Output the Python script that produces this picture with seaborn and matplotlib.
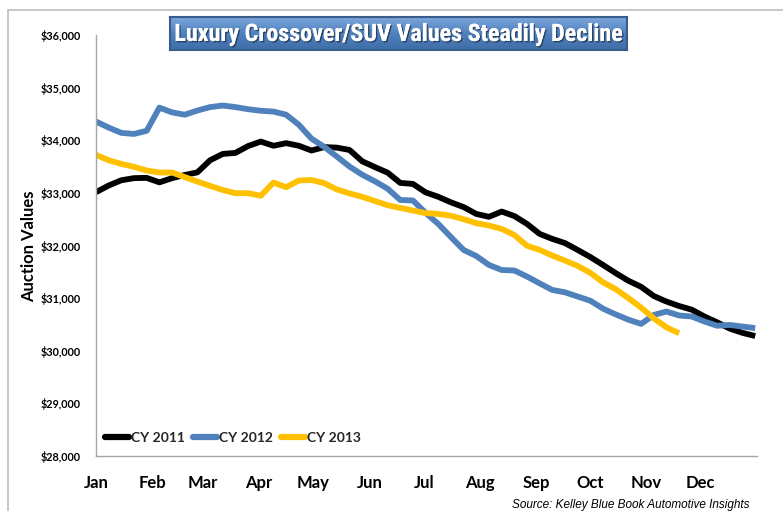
import numpy as np
import pandas as pd
import matplotlib
matplotlib.use("Agg")
import matplotlib.pyplot as plt
import matplotlib.patheffects as pe
from matplotlib.patches import Rectangle
from matplotlib.lines import Line2D
from matplotlib.colors import LinearSegmentedColormap
from matplotlib import font_manager
import seaborn as sns

# ---------------- data (weekly auction values) ----------------
cy2011 = [33013, 33140, 33240, 33280, 33285, 33200, 33280, 33340, 33390, 33620,
          33740, 33760, 33890, 33975, 33895, 33945, 33895, 33805, 33870, 33860,
          33815, 33600, 33490, 33385, 33190, 33170, 33010, 32925, 32820, 32730,
          32600, 32545, 32645, 32560, 32410, 32220, 32125, 32045, 31915, 31780,
          31630, 31475, 31330, 31215, 31040, 30935, 30850, 30780, 30650, 30540,
          30420, 30340, 30280]
cy2012 = [34356, 34240, 34140, 34120, 34180, 34620, 34530, 34485, 34565, 34630,
          34660, 34630, 34590, 34560, 34545, 34485, 34295, 34030, 33875, 33690,
          33500, 33345, 33220, 33080, 32865, 32855, 32620, 32410, 32160, 31915,
          31800, 31630, 31535, 31525, 31410, 31280, 31155, 31110, 31030, 30950,
          30800, 30690, 30590, 30510, 30680, 30745, 30670, 30650, 30555, 30475,
          30490, 30460, 30430]
cy2013 = [33722, 33620, 33550, 33495, 33425, 33388, 33386, 33300, 33215, 33133,
          33055, 32994, 32994, 32945, 33196, 33108, 33234, 33245, 33185, 33065,
          32990, 32925, 32845, 32765, 32715, 32665, 32615, 32600, 32565, 32500,
          32424, 32380, 32315, 32200, 31995, 31916, 31808, 31713, 31612, 31480,
          31300, 31170, 31000, 30820, 30615, 30445, 30333]
series_names = ["CY 2011", "CY 2012", "CY 2013"]
series_colors = ["#000000", "#4F81BD", "#FFC000"]
month_labels = ["Jan", "Feb", "Mar", "Apr", "May", "Jun", "Jul", "Aug", "Sep",
                "Oct", "Nov", "Dec", ""]
month_start_days = [0, 31, 59, 90, 120, 151, 181, 212, 243, 273, 304, 334, 365]
y_ticks = [28000, 29000, 30000, 31000, 32000, 33000, 34000, 35000, 36000]
title_text = "Luxury Crossover/SUV Values Steadily Decline"
source_text = "Source: Kelley Blue Book Automotive Insights"

frames = []
for name, vals in zip(series_names, [cy2011, cy2012, cy2013]):
    frames.append(pd.DataFrame({"day": np.arange(len(vals)) * 7,
                                "value": vals, "series": name}))
df = pd.concat(frames, ignore_index=True)

# ---------------- figure ----------------
sns.set_theme(style="white")
plt.rcParams["font.family"] = ["Lato", "DejaVu Sans"]

W, H = 783, 511
fig = plt.figure(figsize=(W / 100, H / 100), dpi=100)
fig.patch.set_facecolor("white")

# chart border (Excel chart-area frame)
fig.patches.append(Rectangle((8 / W, -0.05), 1.2, (H - 10) / H + 0.05,
                             transform=fig.transFigure, fill=False,
                             edgecolor="#BFBFBF", linewidth=1.2, zorder=0))

ax = fig.add_axes([96 / W, (H - 456) / H, (757 - 96) / W, (456 - 35) / H])
palette = dict(zip(series_names, series_colors))
sns.lineplot(data=df, x="day", y="value", hue="series", palette=palette,
             hue_order=series_names, linewidth=4.2, ax=ax, legend=False,
             solid_joinstyle="round", solid_capstyle="butt")

ax.set_xlim(0, 365)
ax.set_ylim(28000, 36000)
ax.set_xticks(month_start_days)
ax.set_xticklabels(month_labels, fontsize=12, fontweight="bold")
ax.set_yticks(y_ticks)
ax.set_yticklabels(["${:,}".format(v) for v in y_ticks], fontsize=7.8,
                   fontweight="bold")
ax.tick_params(axis="both", which="both", direction="out", length=5,
               width=1, color="#A6A6A6", colors="black")
ax.tick_params(axis="x", pad=9, colors="black")
ax.tick_params(axis="y", pad=6, colors="black")
for s in ["top", "right"]:
    ax.spines[s].set_visible(False)
for s in ["left", "bottom"]:
    ax.spines[s].set_color("#A6A6A6")
    ax.spines[s].set_linewidth(1)
ax.set_xlabel("")
ax.set_ylabel("Auction Values", fontsize=12, fontweight="bold", color="black")
ax.yaxis.set_label_coords(-(96 - 37) / 661, (456 - 246) / 421)
ax.grid(False)

handles = [Line2D([0], [0], color=c, linewidth=4.5, solid_capstyle="round")
           for c in series_colors]
leg = ax.legend(handles, series_names, loc="center left",
                bbox_to_anchor=((105 - 96) / 661, (456 - 437.5) / 421),
                ncol=3, frameon=False, borderpad=0, borderaxespad=0,
                handlelength=1.7, handletextpad=0.15, columnspacing=0.6,
                prop={"family": "Lato", "weight": "bold", "size": 10})

# ---------------- title box with gradient ----------------
tx0, tx1, ty0, ty1 = 170, 627, 17, 50
tax = fig.add_axes([tx0 / W, (H - ty1) / H, (tx1 - tx0) / W, (ty1 - ty0) / H])
grad = np.linspace(0, 1, 64).reshape(-1, 1)
cmap = LinearSegmentedColormap.from_list("tb", ["#7DA7DC", "#4F81BD", "#3F6DA8"])
tax.imshow(grad, aspect="auto", cmap=cmap, extent=[0, 1, 0, 1], origin="upper")
tax.set_xlim(0, 1)
tax.set_ylim(0, 1)
tax.set_xticks([])
tax.set_yticks([])
for s in tax.spines.values():
    s.set_color("#385D8A")
    s.set_linewidth(1.5)

# pick a narrow family if one is installed
title_family = "DejaVu Sans"
for cand in ["Liberation Sans Narrow", "Roboto Condensed", "DejaVu Sans Condensed",
             "Open Sans Condensed", "Liberation Sans"]:
    try:
        font_manager.findfont(font_manager.FontProperties(family=cand),
                              fallback_to_default=False)
        title_family = cand
        break
    except Exception:
        continue

ttl = tax.text(0.5, 0.47, title_text, ha="center", va="center", color="white",
               fontsize=16, fontweight="bold", family=[title_family, "DejaVu Sans"],
               path_effects=[pe.withSimplePatchShadow(offset=(1, -1),
                                                      shadow_rgbFace="#1F3550",
                                                      alpha=0.8), pe.Normal()])
# fit the title width to the box like the reference (~448 px)
renderer = fig.canvas.get_renderer()
w = ttl.get_window_extent(renderer).width
ttl.set_fontsize(16 * 448.0 / w)

# ---------------- source note ----------------
fig.text(750 / W, 3.0 / H, source_text, ha="right", va="baseline",
         fontsize=8.5, style="italic", color="#000000",
         family=["Liberation Sans", "DejaVu Sans"])

fig.savefig("out.png", dpi=100)
